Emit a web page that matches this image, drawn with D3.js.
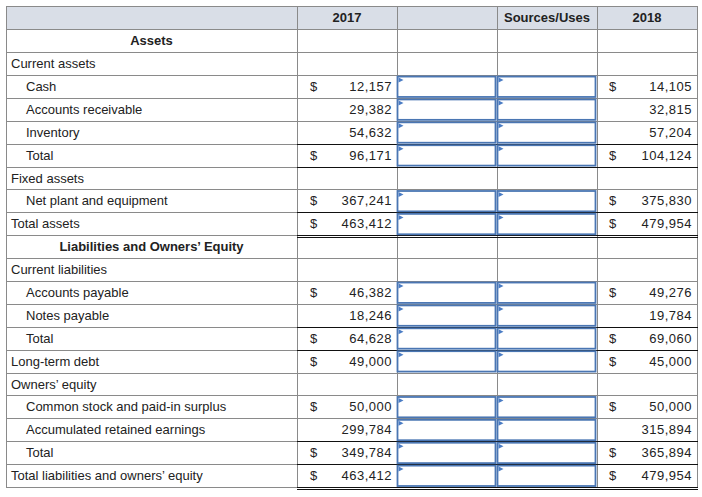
<!DOCTYPE html>
<html>
<head>
<meta charset="utf-8">
<script src="https://cdn.jsdelivr.net/npm/d3@7"></script>
<style>
  html, body { margin: 0; padding: 0; background: #fff; }
  svg { display: block; }
  text { font-family: "Liberation Sans", Arial, sans-serif; font-size: 13px; fill: #222; }
</style>
</head>
<body>
<svg id="chart" width="702" height="497"></svg>
<script>
// ---- data ----
const headers = ["2017", "", "Sources/Uses", "2018"];
const rowLabels = [
  "Assets", "Current assets", "Cash", "Accounts receivable", "Inventory", "Total",
  "Fixed assets", "Net plant and equipment", "Total assets",
  "Liabilities and Owners\u2019 Equity", "Current liabilities", "Accounts payable",
  "Notes payable", "Total", "Long-term debt", "Owners\u2019 equity",
  "Common stock and paid-in surplus", "Accumulated retained earnings", "Total",
  "Total liabilities and owners\u2019 equity"
];
// section, group, item, top (non-indented value row), subtotal, grand
const rowKinds = [
  "section", "group", "item", "item", "item", "subtotal",
  "group", "item", "grand",
  "section", "group", "item", "item", "subtotal", "top", "group",
  "item", "item", "subtotal", "grand"
];
const values2017 = [null, null, 12157, 29382, 54632, 96171, null, 367241, 463412,
  null, null, 46382, 18246, 64628, 49000, null, 50000, 299784, 349784, 463412];
const values2018 = [null, null, 14105, 32815, 57204, 104124, null, 375830, 479954,
  null, null, 49276, 19784, 69060, 45000, null, 50000, 315894, 365894, 479954];
const dollarSign = [false, false, true, false, false, true, false, true, true,
  false, false, true, false, true, true, false, true, false, true, true];

// ---- layout ----
const svg = d3.select("#chart");
const W = 702, H = 497;
const tableLeft = 6, labelRight = 297, tableRight = 697, tableTop = 6, headerBottom = 29.3, tableBottom = 487;
const GRID = "#8a8a8a", BLUE = "#4a76b3";

const x = d3.scaleBand().domain(["2017", "in1", "in2", "2018"]).range([labelRight, tableRight]);
const y = d3.scaleBand().domain(d3.range(rowLabels.length)).range([headerBottom, tableBottom]);
const fmt = d3.format(",");
const px = v => Math.round(v) + 0.5;

svg.append("rect").attr("width", W).attr("height", H).attr("fill", "#fff");

// header background
svg.append("rect")
  .attr("x", tableLeft).attr("y", tableTop)
  .attr("width", tableRight - tableLeft).attr("height", headerBottom - tableTop)
  .attr("fill", "#d9dee7");

const grid = svg.append("g").attr("stroke", GRID).attr("stroke-width", 1).attr("shape-rendering", "crispEdges");
// horizontal grid lines
const hLines = [tableTop, headerBottom].concat(d3.range(rowLabels.length).map(i => y(i) + y.bandwidth()));
grid.selectAll("line.h").data(hLines).join("line")
  .attr("x1", tableLeft).attr("x2", tableRight + 1)
  .attr("y1", d => px(d)).attr("y2", d => px(d));
// vertical grid lines
const vLines = [tableLeft, labelRight, x("in1"), x("in2"), x("2018"), tableRight];
grid.selectAll("line.v").data(vLines).join("line")
  .attr("x1", d => px(d)).attr("x2", d => px(d))
  .attr("y1", tableTop).attr("y2", tableBottom + 1);

// black rules for totals
const rules = svg.append("g").attr("stroke", "#111").attr("stroke-width", 1).attr("shape-rendering", "crispEdges");
rowKinds.forEach((k, i) => {
  if (k === "subtotal" || k === "grand") {
    const top = y(i), bot = y(i) + y.bandwidth();
    rules.append("line").attr("x1", labelRight).attr("x2", tableRight + 1).attr("y1", px(top)).attr("y2", px(top));
    rules.append("line").attr("x1", labelRight).attr("x2", tableRight + 1).attr("y1", px(bot)).attr("y2", px(bot));
    if (k === "grand") {
      rules.append("line").attr("x1", labelRight).attr("x2", tableRight + 1).attr("y1", px(bot) + 2).attr("y2", px(bot) + 2);
    }
  }
});

// header text
svg.append("g").selectAll("text").data(headers).join("text")
  .attr("x", (d, i) => x(x.domain()[i]) + x.bandwidth() / 2)
  .attr("y", (tableTop + headerBottom) / 2 + 4.5)
  .attr("text-anchor", "middle")
  .attr("font-weight", "bold")
  .text(d => d);

// row labels
const baseline = i => y(i) + y.bandwidth() / 2 + 4.5;
svg.append("g").selectAll("text").data(rowLabels).join("text")
  .attr("x", (d, i) => rowKinds[i] === "section" ? (tableLeft + labelRight) / 2 :
    (rowKinds[i] === "item" || rowKinds[i] === "subtotal") ? 26 : 11)
  .attr("y", (d, i) => baseline(i))
  .attr("text-anchor", (d, i) => rowKinds[i] === "section" ? "middle" : "start")
  .attr("font-weight", (d, i) => rowKinds[i] === "section" ? "bold" : null)
  .text(d => d);

// value columns
function valueColumn(key, vals, dollarOffset) {
  const g = svg.append("g");
  vals.forEach((v, i) => {
    if (v == null) return;
    g.append("text")
      .attr("x", x(key) + x.bandwidth() - 5)
      .attr("y", baseline(i))
      .attr("text-anchor", "end")
      .attr("letter-spacing", "0.5px")
      .text(fmt(v));
    if (dollarSign[i]) {
      g.append("text")
        .attr("x", x(key) + dollarOffset)
        .attr("y", baseline(i))
        .text("$");
    }
  });
}
valueColumn("2017", values2017, 13);
valueColumn("2018", values2018, 12);

// input boxes (Sources/Uses entry cells)
const inputs = svg.append("g");
values2017.forEach((v, i) => {
  if (v == null) return;
  ["in1", "in2"].forEach(k => {
    const x0 = x(k), y0 = y(i);
    inputs.append("rect")
      .attr("x", x0 + 0.5).attr("y", y0 + 1.5)
      .attr("width", x.bandwidth() - 2).attr("height", y.bandwidth() - 2.5)
      .attr("fill", "#fff").attr("stroke", BLUE).attr("stroke-width", 1.8);
    inputs.append("path")
      .attr("d", `M${x0 + 1.5},${y0 + 2.5} L${x0 + 6.5},${y0 + 5} L${x0 + 1.5},${y0 + 7.5} Z`)
      .attr("fill", "#4a7cc4");
  });
});
</script>
</body>
</html>
